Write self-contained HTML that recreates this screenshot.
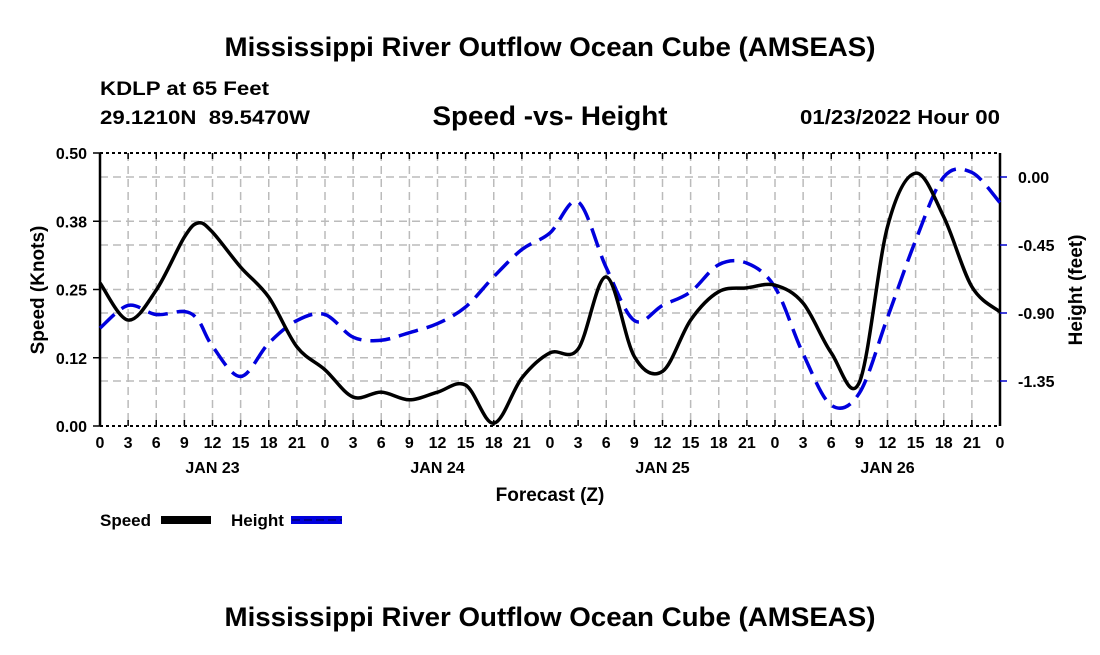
<!DOCTYPE html>
<html><head><meta charset="utf-8"><style>
body{margin:0;background:#fff;width:1100px;height:650px;overflow:hidden;font-family:"Liberation Sans",sans-serif}
svg text{font-family:"Liberation Sans",sans-serif;font-weight:bold}
</style></head><body>
<svg id="chart" width="1100" height="650">
<text x="550" y="56" font-size="27" text-anchor="middle" textLength="651" lengthAdjust="spacingAndGlyphs">Mississippi River Outflow Ocean Cube (AMSEAS)</text>
<text x="100" y="95" font-size="19" textLength="169" lengthAdjust="spacingAndGlyphs">KDLP at 65 Feet</text>
<text x="100" y="124" font-size="19" textLength="210" lengthAdjust="spacingAndGlyphs">29.1210N&#160;&#160;89.5470W</text>
<text x="550" y="125" font-size="27" text-anchor="middle" textLength="235" lengthAdjust="spacingAndGlyphs">Speed -vs- Height</text>
<text x="800" y="124" font-size="20" textLength="200" lengthAdjust="spacingAndGlyphs">01/23/2022 Hour 00</text>
<g id="grid"></g>
<g id="axes"></g>
<g id="series"></g>
<text x="550" y="501" font-size="19" text-anchor="middle">Forecast (Z)</text>
<text transform="translate(44,290) rotate(-90)" font-size="19" text-anchor="middle">Speed (Knots)</text>
<text transform="translate(1082,290) rotate(-90)" font-size="19" text-anchor="middle">Height (feet)</text>
<g>
<text x="100" y="526" font-size="17">Speed</text>
<rect x="161" y="516" width="50" height="8" fill="#000"/>
</g>
<g>
<text x="231" y="526" font-size="17">Height</text>
<rect x="291" y="516" width="51" height="8" fill="#0000dd"/>
<line x1="292" y1="520" x2="342" y2="520" stroke="#000040" stroke-width="1" stroke-dasharray="8,4"/>
</g>
<text x="550" y="626" font-size="27" text-anchor="middle" textLength="651" lengthAdjust="spacingAndGlyphs">Mississippi River Outflow Ocean Cube (AMSEAS)</text>
</svg>
<script>
const hours=[0,3,6,9,10.5,12,15,18,21,24,27,30,33,36,39,42,45,48,51,54,57,60,63,66,69,72,75,78,81,84,87,90,93,96];
const speedValues=[0.262,0.194,0.249,0.346,0.372,0.355,0.291,0.236,0.145,0.103,0.053,0.062,0.048,0.062,0.075,0.005,0.088,0.134,0.141,0.273,0.127,0.100,0.194,0.246,0.253,0.258,0.225,0.134,0.080,0.365,0.463,0.383,0.255,0.209];
const heightValues=[-1.0,-0.85,-0.91,-0.89,-0.95,-1.12,-1.32,-1.10,-0.95,-0.91,-1.06,-1.08,-1.03,-0.97,-0.86,-0.66,-0.48,-0.37,-0.165,-0.60,-0.95,-0.85,-0.76,-0.58,-0.57,-0.73,-1.17,-1.51,-1.43,-0.93,-0.42,0.00,0.03,-0.17];
const hourTicks=["0","3","6","9","12","15","18","21"];
const dayLabels=["JAN 23","JAN 24","JAN 25","JAN 26"];
const speedTicks=[0,0.125,0.25,0.375,0.5];
const speedTickLabels=["0.00","0.12","0.25","0.38","0.50"];
const heightTicks=[0,-0.45,-0.9,-1.35];
const heightTickLabels=["0.00","-0.45","-0.90","-1.35"];

const L=100,R=1000,T=153,B=426;
const x=h=>L+h*(R-L)/96;
const yS=v=>B-v*(B-T)/0.5;
const yH=v=>177-v*(381-177)/1.35;
const NS="http://www.w3.org/2000/svg";
function mk(tag,attrs,parent){const e=document.createElementNS(NS,tag);for(const k in attrs)e.setAttribute(k,attrs[k]);parent.appendChild(e);return e;}
const grid=document.getElementById('grid'),axes=document.getElementById('axes'),series=document.getElementById('series');
for(let h=3;h<96;h+=3){const l=mk('line',{x1:x(h),x2:x(h),y1:T,y2:B,stroke:'#bbb','stroke-width':1.5,'stroke-dasharray':'8,5'},grid);

}
[...speedTicks.slice(1,4).map(yS),...heightTicks.map(yH)].forEach(y=>{const l=mk('line',{x1:L,x2:R,y1:y,y2:y,stroke:'#bbb','stroke-width':1.5,'stroke-dasharray':'8,5'},grid);

});
mk('line',{x1:L,x2:L,y1:T,y2:B,stroke:'#000','stroke-width':2.5},axes);
mk('line',{x1:R,x2:R,y1:T,y2:B,stroke:'#000','stroke-width':2.5},axes);
mk('line',{x1:L,x2:R,y1:T,y2:T,stroke:'#000','stroke-width':2,'stroke-dasharray':'3,3'},axes);
mk('line',{x1:L,x2:R,y1:B,y2:B,stroke:'#000','stroke-width':2,'stroke-dasharray':'3,3'},axes);
for(let h=0;h<=96;h+=3){mk('line',{x1:x(h),x2:x(h),y1:B-6,y2:B,stroke:'#000','stroke-width':1.5},axes);
mk('line',{x1:x(h),x2:x(h),y1:T,y2:T+6,stroke:'#000','stroke-width':1.5},axes);
const t=mk('text',{x:x(h),y:B+22,'font-size':16,'text-anchor':'middle'},axes);t.textContent=hourTicks[(h/3)%8];

}
dayLabels.forEach((d,i)=>{const t=mk('text',{x:x(i*24+12),y:B+47,'font-size':16,'text-anchor':'middle'},axes);t.textContent=d;

});
speedTicks.forEach((v,i)=>{mk('line',{x1:L-7,x2:L,y1:yS(v),y2:yS(v),stroke:'#000','stroke-width':1.5},axes);
const t=mk('text',{x:L-13,y:yS(v)+6,'font-size':16,'text-anchor':'end'},axes);t.textContent=speedTickLabels[i];

});
heightTicks.forEach((v,i)=>{mk('line',{x1:R,x2:R+7,y1:yH(v),y2:yH(v),stroke:'#0000cc','stroke-width':1.5},axes);
const t=mk('text',{x:R+18,y:yH(v)+6,'font-size':16},axes);t.textContent=heightTickLabels[i];

});
function smooth(pts){let d=`M${pts[0][0]},${pts[0][1]}`;for(let i=0;i<pts.length-1;i++){const p0=pts[i-1]||pts[i],p1=pts[i],p2=pts[i+1],p3=pts[i+2]||p2;
const c1=[p1[0]+(p2[0]-p0[0])/6,p1[1]+(p2[1]-p0[1])/6],c2=[p2[0]-(p3[0]-p1[0])/6,p2[1]-(p3[1]-p1[1])/6];
d+=` C${c1[0]},${c1[1]} ${c2[0]},${c2[1]} ${p2[0]},${p2[1]}`;}return d;}
const hp=mk('path',{d:smooth(hours.map((h,i)=>[x(h),yH(heightValues[i])])),fill:'none',stroke:'#0000dd','stroke-width':3.5,'stroke-dasharray':'20,9'},series);


const sp=mk('path',{d:smooth(hours.map((h,i)=>[x(h),yS(speedValues[i])])),fill:'none',stroke:'#000','stroke-width':3.5},series);


</script>
</body></html>
